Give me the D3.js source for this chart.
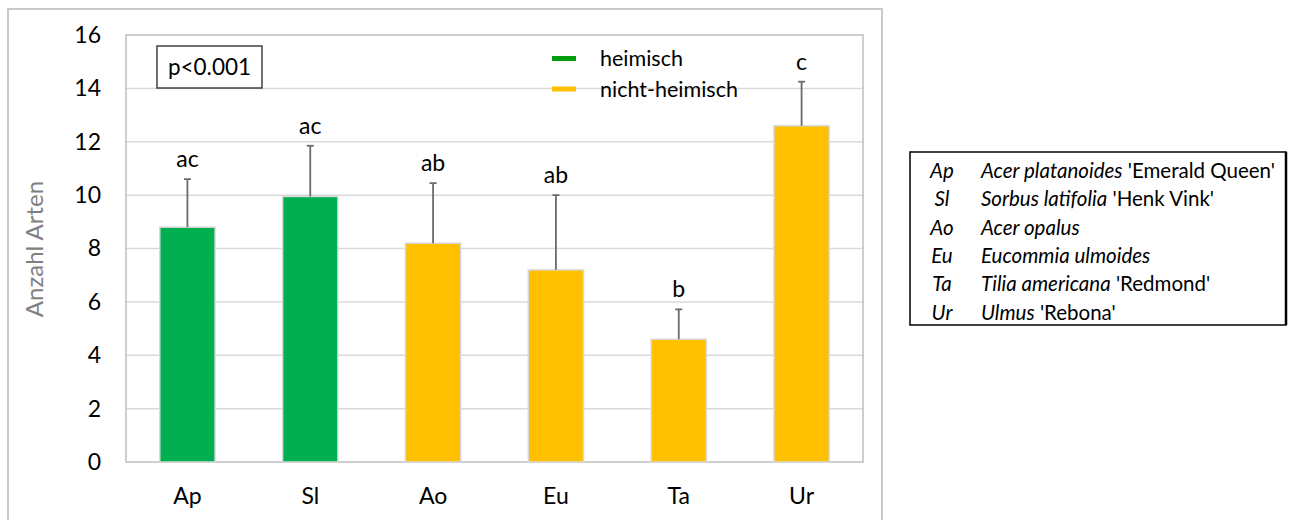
<!DOCTYPE html>
<html>
<head>
<meta charset="utf-8">
<script src="https://cdn.jsdelivr.net/npm/d3@7"></script>
<style>
  html, body { margin: 0; padding: 0; background: #fff; }
  svg { display: block; font-family: Lato, "Open Sans", sans-serif; }
</style>
</head>
<body>
<svg id="chart" width="1292" height="520"></svg>
<script>
// Tree species abbreviations and mean number of species (with SD)
const categories = ["Ap", "Sl", "Ao", "Eu", "Ta", "Ur"];
const means      = [8.8, 9.95, 8.2, 7.2, 4.6, 12.6];
const errUpper   = [10.6, 11.85, 10.45, 10.0, 5.72, 14.25];
const letters    = ["ac", "ac", "ab", "ab", "b", "c"];
const origin     = ["heimisch", "heimisch", "nicht-heimisch", "nicht-heimisch", "nicht-heimisch", "nicht-heimisch"];
const yTicks     = [0, 2, 4, 6, 8, 10, 12, 14, 16];
const groups     = ["heimisch", "nicht-heimisch"];
const abbrevs    = ["Ap", "Sl", "Ao", "Eu", "Ta", "Ur"];
const species    = ["Acer platanoides", "Sorbus latifolia", "Acer opalus", "Eucommia ulmoides", "Tilia americana", "Ulmus"];
const cultivars  = ["'Emerald Queen'", "'Henk Vink'", "", "", "'Redmond'", "'Rebona'"];

const barColor = d3.scaleOrdinal().domain(groups).range(["#00b050", "#ffc000"]);
const legendColor = d3.scaleOrdinal().domain(groups).range(["#009e0f", "#ffc000"]);

const svg = d3.select("#chart");

// outer chart frame
svg.append("rect")
  .attr("x", 8).attr("y", 9).attr("width", 874).attr("height", 530)
  .attr("fill", "none").attr("stroke", "#c9c9c9").attr("stroke-width", 2);

const plot = { left: 126, top: 35, right: 863, bottom: 462 };

const x = d3.scaleBand().domain(categories).range([plot.left, plot.right]).paddingInner(0.55).paddingOuter(0.275);
const y = d3.scaleLinear().domain([0, 16]).range([plot.bottom, plot.top]);

// horizontal gridlines
svg.append("g")
  .selectAll("line").data(yTicks.filter(t => t > 0 && t < 16)).join("line")
  .attr("x1", plot.left).attr("x2", plot.right)
  .attr("y1", d => y(d)).attr("y2", d => y(d))
  .attr("stroke", "#d9d9d9").attr("stroke-width", 1.5);

// plot area border
svg.append("rect")
  .attr("x", plot.left).attr("y", plot.top)
  .attr("width", plot.right - plot.left).attr("height", plot.bottom - plot.top)
  .attr("fill", "none").attr("stroke", "#bfbfbf").attr("stroke-width", 1.5);

// y axis
const yAxis = svg.append("g")
  .attr("transform", `translate(${plot.left},0)`)
  .call(d3.axisLeft(y).tickValues(yTicks).tickSize(0).tickPadding(25));
yAxis.select(".domain").remove();
yAxis.selectAll("text").attr("font-size", 23).attr("fill", "#000").attr("font-family", "Lato, sans-serif");

// x axis
const xAxis = svg.append("g")
  .attr("transform", `translate(0,${plot.bottom})`)
  .call(d3.axisBottom(x).tickSize(0).tickPadding(26));
xAxis.select(".domain").remove();
xAxis.selectAll("text").attr("font-size", 23).attr("fill", "#000").attr("font-family", "Lato, sans-serif");

// y axis title
svg.append("text")
  .attr("transform", `translate(43,249) rotate(-90)`)
  .attr("text-anchor", "middle")
  .attr("font-size", 24).attr("fill", "#7f7f7f")
  .text("Anzahl Arten");

// bars
svg.append("g")
  .selectAll("rect").data(categories).join("rect")
  .attr("x", d => x(d))
  .attr("y", (d, i) => y(means[i]))
  .attr("width", x.bandwidth())
  .attr("height", (d, i) => y(0) - y(means[i]))
  .attr("fill", (d, i) => barColor(origin[i]))
  .attr("stroke", "#d9d9d9").attr("stroke-width", 1.5);

// error bars (upper only)
const eb = svg.append("g").attr("stroke", "#6b6b6b").attr("stroke-width", 1.8);
eb.selectAll("line.v").data(categories).join("line").attr("class", "v")
  .attr("x1", d => x(d) + x.bandwidth() / 2).attr("x2", d => x(d) + x.bandwidth() / 2)
  .attr("y1", (d, i) => y(means[i])).attr("y2", (d, i) => y(errUpper[i]));
eb.selectAll("line.c").data(categories).join("line").attr("class", "c")
  .attr("x1", d => x(d) + x.bandwidth() / 2 - 3.5).attr("x2", d => x(d) + x.bandwidth() / 2 + 3.5)
  .attr("y1", (d, i) => y(errUpper[i])).attr("y2", (d, i) => y(errUpper[i]));

// significance letters
svg.append("g")
  .selectAll("text").data(categories).join("text")
  .attr("x", d => x(d) + x.bandwidth() / 2)
  .attr("y", (d, i) => y(errUpper[i]) - 12)
  .attr("text-anchor", "middle")
  .attr("font-size", 23).attr("fill", "#000")
  .text((d, i) => letters[i]);

// p-value box
svg.append("rect")
  .attr("x", 157).attr("y", 46).attr("width", 105).attr("height", 42)
  .attr("fill", "#fff").attr("stroke", "#404040").attr("stroke-width", 1.5);
svg.append("text")
  .attr("x", 209.5).attr("y", 74.5).attr("text-anchor", "middle")
  .attr("font-size", 22.5).attr("fill", "#000")
  .text("p<0.001");

// legend
const lg = svg.append("g").selectAll("g").data(groups).join("g")
  .attr("transform", (d, i) => `translate(552,${58.5 + i * 30.5})`);
lg.append("line").attr("x1", 0).attr("x2", 24).attr("y1", 0).attr("y2", 0)
  .attr("stroke", d => legendColor(d)).attr("stroke-width", 5);
lg.append("text").attr("x", 48).attr("y", 7.5).attr("font-size", 21.5).attr("fill", "#000").text(d => d);

// abbreviation key table
const tbl = svg.append("g");
tbl.append("rect")
  .attr("x", 910).attr("y", 152).attr("width", 376).attr("height", 173)
  .attr("fill", "#fff").attr("stroke", "#000").attr("stroke-width", 1.5);
tbl.append("line").attr("x1", 1286).attr("x2", 1286).attr("y1", 152).attr("y2", 325)
  .attr("stroke", "#000").attr("stroke-width", 2.5);
const rows = tbl.selectAll("g.row").data(abbrevs).join("g").attr("class", "row")
  .attr("transform", (d, i) => `translate(0,${178 + i * 28.3})`);
rows.append("text").attr("x", 942).attr("text-anchor", "middle")
  .attr("font-size", 20.5).attr("font-style", "italic").attr("font-family", "Lato, sans-serif").text(d => d);
const names = rows.append("text").attr("x", 981).attr("font-size", 20.5).attr("font-family", "Lato, sans-serif");
names.append("tspan").attr("font-style", "italic").text((d, i) => species[i]);
names.append("tspan").text((d, i) => cultivars[i] ? " " + cultivars[i] : "");
</script>
</body>
</html>
